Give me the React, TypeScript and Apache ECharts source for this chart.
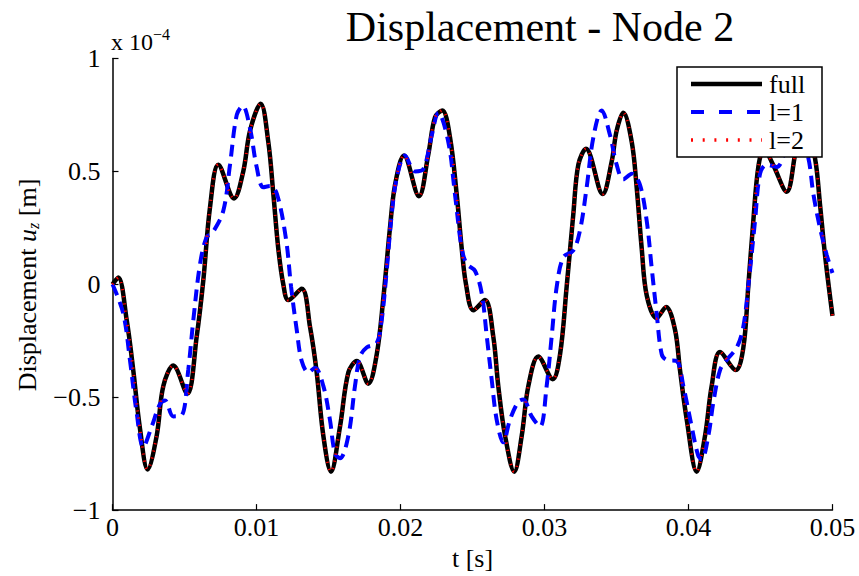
import React, { useEffect, useRef } from "react";
import * as echarts from "echarts";

const SERIF = '"Liberation Serif", "Times New Roman", serif';

const xTickValues = [0, 0.01, 0.02, 0.03, 0.04, 0.05];
const yTickValues = [-1, -0.5, 0, 0.5, 1];
const legendNames = ["full", "l=1", "l=2"];
const titleText = "Displacement - Node 2";

// displacement values in units of 1e-4 m, time in s
const fullPoints: [number, number][] = [
  [0, 0], [0.0004, 0.03], [0.00099, -0.16], [0.00144, -0.38], [0.00191, -0.64],
  [0.00244, -0.82], [0.00307, -0.67], [0.00353, -0.45], [0.00422, -0.36], [0.00519, -0.485],
  [0.00585, -0.23], [0.00631, 0.02], [0.00677, 0.34], [0.00735, 0.53], [0.00844, 0.38],
  [0.00908, 0.5], [0.00955, 0.68], [0.01029, 0.8], [0.01082, 0.63], [0.01117, 0.4],
  [0.01151, 0.16], [0.01186, 0.0], [0.01221, -0.07], [0.01314, -0.02], [0.01372, -0.19],
  [0.01418, -0.39], [0.01464, -0.67], [0.01517, -0.83], [0.0158, -0.63], [0.01638, -0.39],
  [0.01696, -0.34], [0.01776, -0.44], [0.01835, -0.31], [0.01881, -0.06], [0.01927, 0.25],
  [0.01962, 0.44], [0.02024, 0.57], [0.02128, 0.39], [0.02193, 0.575], [0.0224, 0.74],
  [0.0229, 0.77], [0.02344, 0.65], [0.0239, 0.4], [0.02425, 0.16], [0.02455, 0.0],
  [0.02506, -0.115], [0.02587, -0.07], [0.02644, -0.23], [0.02679, -0.45], [0.02726, -0.67],
  [0.0279, -0.83], [0.02842, -0.67], [0.02888, -0.45], [0.02957, -0.32], [0.03057, -0.42],
  [0.03108, -0.31], [0.03154, -0.01], [0.032, 0.31], [0.03235, 0.53], [0.03288, 0.6],
  [0.03404, 0.4], [0.03467, 0.545], [0.03501, 0.68], [0.03547, 0.76], [0.03606, 0.63],
  [0.0364, 0.43], [0.03675, 0.16], [0.0371, -0.05], [0.03779, -0.15], [0.03844, -0.1],
  [0.03906, -0.2], [0.03941, -0.38], [0.03988, -0.6], [0.04057, -0.83], [0.04115, -0.67],
  [0.04161, -0.45], [0.04219, -0.3], [0.04328, -0.38], [0.04381, -0.28], [0.04415, -0.01],
  [0.0445, 0.28], [0.04485, 0.52], [0.04524, 0.6], [0.04587, 0.53], [0.04682, 0.41],
  [0.0474, 0.575], [0.04795, 0.76], [0.04878, 0.56], [0.04913, 0.355], [0.04948, 0.13],
  [0.05, -0.14],
];

const l1Points: [number, number][] = [
  [0, 0], [0.00075, -0.13], [0.00122, -0.34], [0.00168, -0.57], [0.00214, -0.72],
  [0.00272, -0.63], [0.0033, -0.53], [0.00365, -0.515], [0.00422, -0.585], [0.00481, -0.58],
  [0.00526, -0.38], [0.00561, -0.16], [0.00608, 0.09], [0.00654, 0.21], [0.00691, 0.225],
  [0.00769, 0.325], [0.00816, 0.53], [0.00863, 0.75], [0.00904, 0.79], [0.00955, 0.69],
  [0.01001, 0.52], [0.01047, 0.43], [0.01094, 0.435], [0.01142, 0.4], [0.01205, 0.2],
  [0.0124, -0.01], [0.01279, -0.2], [0.01314, -0.34], [0.0136, -0.39], [0.01406, -0.37],
  [0.01464, -0.45], [0.0151, -0.6], [0.01545, -0.75], [0.0158, -0.77], [0.01638, -0.67],
  [0.01684, -0.45], [0.01719, -0.32], [0.01765, -0.28], [0.01835, -0.26], [0.01869, -0.16],
  [0.01904, 0.06], [0.01939, 0.31], [0.01974, 0.47], [0.02031, 0.57], [0.02101, 0.5],
  [0.02158, 0.51], [0.02217, 0.66], [0.02263, 0.76], [0.02332, 0.63], [0.02378, 0.4],
  [0.02425, 0.16], [0.0246, 0.09], [0.02517, 0.06], [0.02564, -0.04], [0.02599, -0.23],
  [0.02633, -0.42], [0.02668, -0.6], [0.02714, -0.7], [0.0276, -0.6], [0.02818, -0.52],
  [0.02853, -0.51], [0.02911, -0.585], [0.02969, -0.63], [0.03015, -0.45], [0.0305, -0.23],
  [0.03085, -0.01], [0.03131, 0.12], [0.032, 0.15], [0.03247, 0.24], [0.03293, 0.43],
  [0.03339, 0.65], [0.03397, 0.77], [0.03455, 0.66], [0.03501, 0.53], [0.03547, 0.465],
  [0.03606, 0.49], [0.03663, 0.44], [0.0371, 0.28], [0.03744, 0.075], [0.03779, -0.13],
  [0.03814, -0.31], [0.03849, -0.335], [0.03918, -0.34], [0.03964, -0.45], [0.04022, -0.63],
  [0.04068, -0.76], [0.04092, -0.775], [0.04138, -0.67], [0.04172, -0.525], [0.04219, -0.38],
  [0.04265, -0.335], [0.04335, -0.28], [0.0438, -0.19], [0.04415, -0.01], [0.04462, 0.28],
  [0.04497, 0.49], [0.04543, 0.53], [0.04613, 0.52], [0.04677, 0.6], [0.04753, 0.72],
  [0.04832, 0.56], [0.04867, 0.4], [0.04913, 0.25], [0.0496, 0.13], [0.05, 0.05],
];

// l=2 coincides with the full solution
const l2Points: [number, number][] = fullPoints;

function yLabel(v: number): string {
  if (Math.abs(v) < 1e-9) return "0";
  const s = String(Math.abs(v));
  return v < 0 ? "\u2212" + s : s;
}

function xLabel(v: number): string {
  if (Math.abs(v) < 1e-9) return "0";
  return v.toFixed(2);
}

export default function App() {
  const ref = useRef<HTMLDivElement>(null);
  useEffect(() => {
    const chart = echarts.init(ref.current!, undefined, { renderer: "svg" });
    const legendX0 = 691;
    const legendX1 = 762;
    const legendRows = [84, 112, 140];
    const option: any = {
      animation: false,
      backgroundColor: "#fff",
      grid: { left: 112.5, right: 26.5, top: 58.5, bottom: 63.5, containLabel: false },
      xAxis: {
        type: "value",
        min: xTickValues[0],
        max: xTickValues[xTickValues.length - 1],
        interval: 0.01,
        name: "t [s]",
        nameLocation: "middle",
        nameGap: 29,
        nameTextStyle: { fontFamily: SERIF, fontSize: 26, color: "#000" },
        axisLine: { show: true, onZero: false, lineStyle: { color: "#000", width: 1.5 } },
        axisTick: { show: true, inside: true, length: 6, lineStyle: { color: "#000", width: 1.2 } },
        axisLabel: { formatter: xLabel, fontFamily: SERIF, fontSize: 26, color: "#000", margin: 4 },
        splitLine: { show: false },
      },
      yAxis: {
        type: "value",
        min: yTickValues[0],
        max: yTickValues[yTickValues.length - 1],
        interval: 0.5,
        axisLine: { show: true, onZero: false, lineStyle: { color: "#000", width: 1.5 } },
        axisTick: { show: true, inside: true, length: 6, lineStyle: { color: "#000", width: 1.2 } },
        axisLabel: { formatter: yLabel, fontFamily: SERIF, fontSize: 26, color: "#000", margin: 12 },
        splitLine: { show: false },
      },
      series: [
        {
          name: legendNames[0],
          type: "line",
          data: fullPoints,
          showSymbol: false,
          smooth: 0.35,
          lineStyle: { color: "#000", width: 4.5 },
          z: 2,
        },
        {
          name: legendNames[1],
          type: "line",
          data: l1Points,
          showSymbol: false,
          smooth: 0.35,
          lineStyle: { color: "#0000ff", width: 4, type: [12, 7] },
          z: 3,
        },
        {
          name: legendNames[2],
          type: "line",
          data: l2Points,
          showSymbol: false,
          smooth: 0.35,
          lineStyle: { color: "#ff0000", width: 3, type: [1.2, 6] },
          z: 4,
        },
      ],
      graphic: [
        {
          type: "text",
          x: 540,
          y: 27,
          z: 100,
          style: {
            text: titleText,
            fontFamily: SERIF,
            fontSize: 42,
            fill: "#000",
            align: "center",
            verticalAlign: "middle",
          },
        },
        {
          type: "text",
          x: 111,
          y: 40,
          z: 100,
          style: {
            text: "{a|x 10}{b|\u22124}",
            align: "left",
            verticalAlign: "middle",
            rich: {
              a: { fontFamily: SERIF, fontSize: 24, fill: "#000", lineHeight: 28, verticalAlign: "bottom" },
              b: { fontFamily: SERIF, fontSize: 16, fill: "#000", lineHeight: 28, verticalAlign: "top" },
            },
          },
        },
        {
          type: "text",
          x: 27,
          y: 285,
          rotation: Math.PI / 2,
          z: 100,
          style: {
            text: "{n|Displacement }{i|u}{s|z}{n| [m]}",
            align: "center",
            verticalAlign: "middle",
            rich: {
              n: { fontFamily: SERIF, fontSize: 26, fill: "#000", lineHeight: 32, verticalAlign: "middle" },
              i: { fontFamily: SERIF, fontStyle: "italic", fontSize: 26, fill: "#000", lineHeight: 32, verticalAlign: "middle" },
              s: { fontFamily: SERIF, fontStyle: "italic", fontSize: 16, fill: "#000", lineHeight: 32, verticalAlign: "bottom", padding: [0, 0, 2, 0] },
            },
          },
        },
        {
          type: "rect",
          z: 100,
          shape: { x: 677, y: 67, width: 145, height: 90 },
          style: { fill: "#fff", stroke: "#000", lineWidth: 1.5 },
        },
        {
          type: "line",
          z: 101,
          shape: { x1: legendX0, y1: legendRows[0], x2: legendX1, y2: legendRows[0] },
          style: { stroke: "#000", lineWidth: 4.5 },
        },
        {
          type: "line",
          z: 101,
          shape: { x1: legendX0, y1: legendRows[1], x2: legendX1, y2: legendRows[1] },
          style: { stroke: "#0000ff", lineWidth: 4, lineDash: [13, 15] },
        },
        {
          type: "line",
          z: 101,
          shape: { x1: legendX0, y1: legendRows[2], x2: legendX1, y2: legendRows[2] },
          style: { stroke: "#ff0000", lineWidth: 3.5, lineDash: [2, 9.7] },
        },
        ...legendNames.map((n, i) => ({
          type: "text",
          z: 101,
          x: 769,
          y: legendRows[i],
          style: {
            text: n,
            fontFamily: SERIF,
            fontSize: 26,
            fill: "#000",
            align: "left",
            verticalAlign: "middle",
          },
        })),
      ],
    };
    chart.setOption(option);
    return () => chart.dispose();
  }, []);
  return (
    <div
      ref={ref}
      style={{ position: "absolute", left: 0, top: 0, width: 859, height: 576, background: "#fff" }}
    />
  );
}
